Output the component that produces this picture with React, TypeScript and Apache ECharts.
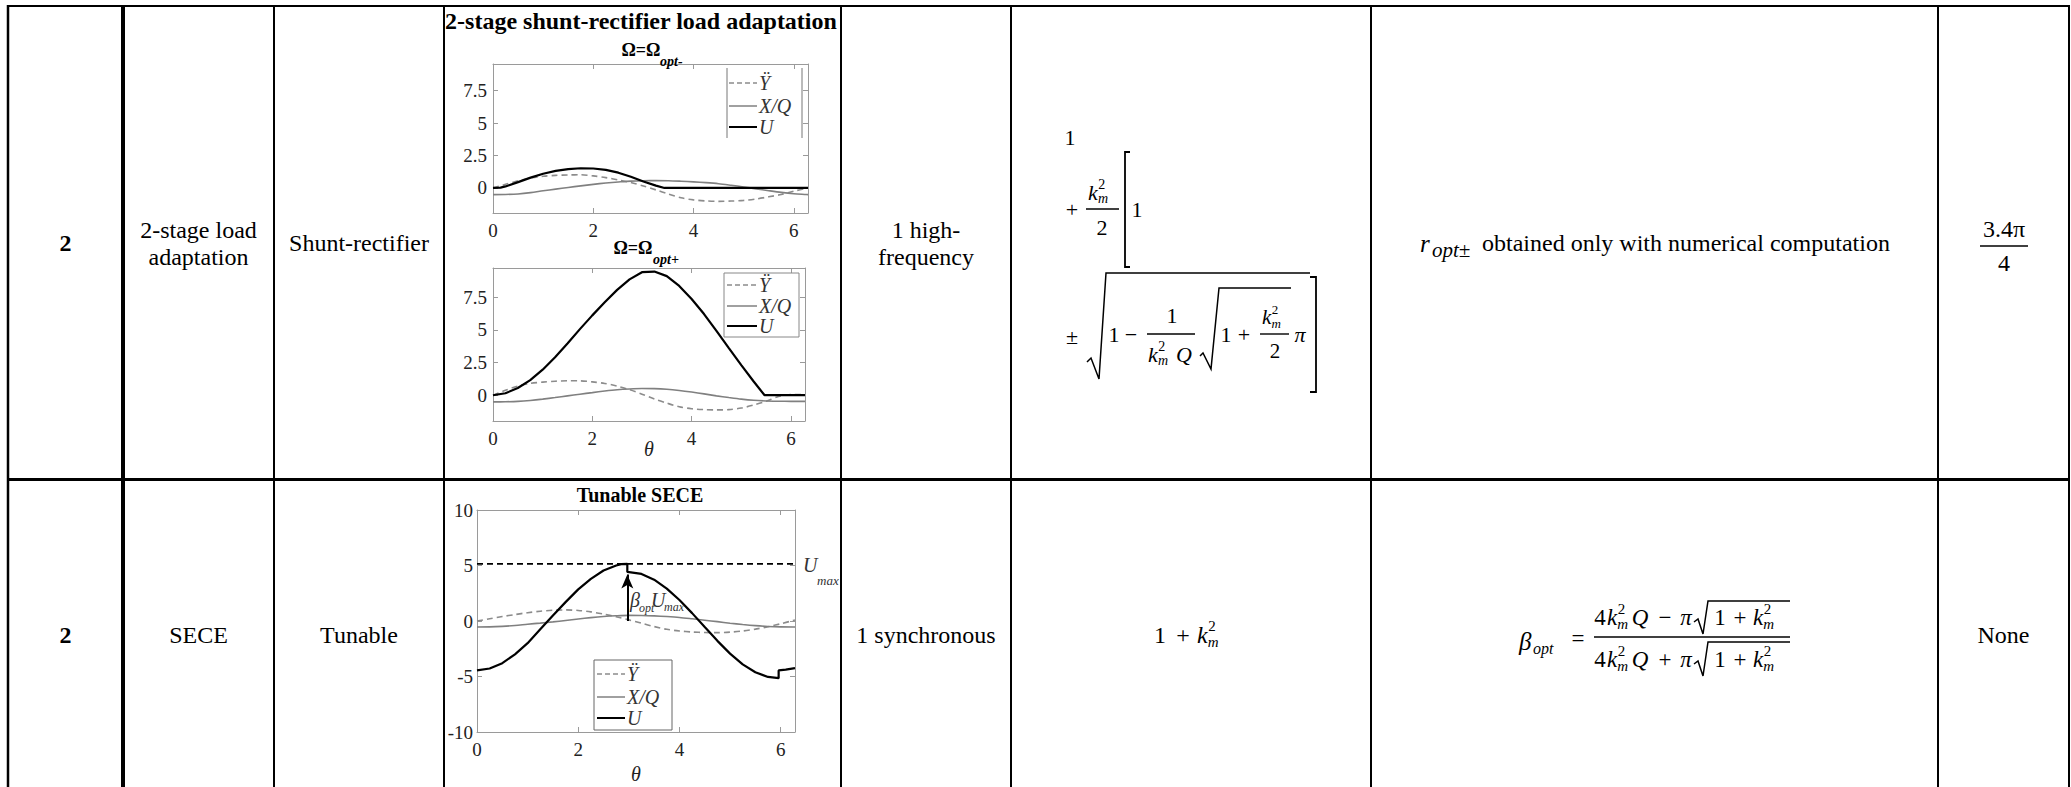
import React, { useEffect, useRef } from "react";
import * as echarts from "echarts";

const SERIF = "Liberation Serif, Times New Roman, serif";

// ---------- data ----------
const THETA = [0, 0.25, 0.5, 0.75, 1, 1.25, 1.5, 1.75, 2, 2.25, 2.5, 2.75, 3, 3.25, 3.5, 3.75, 4, 4.25, 4.5, 4.75, 5, 5.25, 5.5, 5.75, 6, 6.25, 6.2832];
const X_TICKS = [0, 2, 4, 6];
const Y_TICKS_12 = [0, 2.5, 5, 7.5];
const Y_TICKS_3 = [-10, -5, 0, 5, 10];

// Chart 1 : Omega = Omega_opt-
const C1_YDD = [0, 0.28, 0.55, 0.77, 0.9, 0.97, 1.0, 1.02, 0.93, 0.8, 0.62, 0.42, 0.15, -0.15, -0.47, -0.76, -0.92, -1.0, -1.03, -1.01, -0.96, -0.85, -0.68, -0.5, -0.25, -0.02, 0];
const C1_XQ = [-0.51, -0.5, -0.46, -0.36, -0.22, -0.09, 0.04, 0.16, 0.28, 0.38, 0.46, 0.53, 0.56, 0.57, 0.56, 0.52, 0.47, 0.41, 0.33, 0.21, 0.08, -0.07, -0.21, -0.34, -0.44, -0.5, -0.51];
const C1_U_THETA = [0, 0.15, 0.25, 0.5, 0.75, 1, 1.25, 1.5, 1.75, 2, 2.25, 2.5, 2.75, 3, 3.25, 3.42, 6.2832];
const C1_U = [0, 0.03, 0.12, 0.45, 0.8, 1.1, 1.32, 1.46, 1.52, 1.5, 1.4, 1.18, 0.86, 0.5, 0.18, 0, 0];

// Chart 2 : Omega = Omega_opt+
const C2_YDD = [0, 0.38, 0.7, 0.9, 1.0, 1.07, 1.1, 1.1, 1.02, 0.9, 0.7, 0.42, 0.08, -0.28, -0.6, -0.88, -1.03, -1.1, -1.12, -1.1, -0.98, -0.75, -0.47, -0.1, 0.05, 0.06, 0.06];
const C2_XQ = [-0.51, -0.5, -0.47, -0.4, -0.3, -0.18, -0.05, 0.08, 0.2, 0.32, 0.42, 0.48, 0.51, 0.5, 0.45, 0.36, 0.24, 0.1, -0.05, -0.18, -0.3, -0.39, -0.44, -0.46, -0.47, -0.47, -0.47];
const C2_U_THETA = [0, 0.25, 0.5, 0.75, 1, 1.25, 1.5, 1.75, 2, 2.25, 2.5, 2.75, 3, 3.25, 3.5, 3.75, 4, 4.25, 4.5, 4.75, 5, 5.25, 5.47, 6.2832];
const C2_U = [0, 0.15, 0.55, 1.15, 1.95, 2.9, 3.95, 5.05, 6.1, 7.1, 8.05, 8.85, 9.4, 9.45, 9.1, 8.35, 7.35, 6.2, 4.92, 3.6, 2.3, 1.05, 0, 0];

// Chart 3 : Tunable SECE
const C3_YDD = [0, 0.2, 0.4, 0.58, 0.75, 0.88, 0.97, 1.0, 0.95, 0.82, 0.62, 0.38, 0.1, -0.2, -0.5, -0.75, -0.9, -0.99, -1.04, -1.05, -1.0, -0.9, -0.73, -0.52, -0.25, 0.05, 0.1];
const C3_XQ = [-0.54, -0.53, -0.48, -0.4, -0.29, -0.19, -0.08, 0.05, 0.18, 0.3, 0.4, 0.47, 0.51, 0.5, 0.46, 0.4, 0.32, 0.2, 0.07, -0.06, -0.2, -0.32, -0.42, -0.49, -0.53, -0.54, -0.54];
const C3_U_THETA = [0, 0.25, 0.5, 0.75, 1, 1.25, 1.5, 1.75, 2, 2.25, 2.5, 2.75, 2.85, 2.97, 2.97, 3.25, 3.5, 3.75, 4, 4.25, 4.5, 4.75, 5, 5.25, 5.5, 5.75, 5.96, 5.96, 6.1, 6.2832];
const C3_U = [-4.45, -4.28, -3.8, -3.0, -2.0, -0.75, 0.5, 1.7, 2.85, 3.8, 4.55, 5.0, 5.12, 5.15, 4.42, 4.24, 3.72, 2.92, 1.89, 0.71, -0.55, -1.79, -2.94, -3.91, -4.62, -5.04, -5.15, -4.45, -4.38, -4.25];
const C3_UMAX = 5.15;
const C3_ARROW_THETA = 2.97;
const C3_ARROW_TOP = 4.2;

const Y_RANGES = [[-1.93, 9.56], [-1.97, 9.72], [-10, 10]];

// ---------- helpers ----------
const zip = (xs: number[], ys: number[]) => xs.map((x, i) => [x, ys[i]]);

const L = (x1: number, y1: number, x2: number, y2: number, w = 2, color = "#000", dash?: number[]) => ({
  type: "line", silent: true, z: 10,
  shape: { x1, y1, x2, y2 },
  style: dash ? { stroke: color, lineWidth: w, lineDash: dash } : { stroke: color, lineWidth: w },
});
const PL = (pts: number[][], w = 1.5) => ({
  type: "polyline", silent: true, z: 10,
  shape: { points: pts },
  style: { stroke: "#000", lineWidth: w, fill: null },
});
const T = (x: number, y: number, text: string, size: number, o: any = {}) => {
  const style: any = {
    text, fill: o.color || "#000", fontSize: size, fontFamily: o.family || SERIF,
    textAlign: o.align || "center", textVerticalAlign: "middle",
    align: o.align || "center", verticalAlign: "middle",
  };
  if (o.italic) style.fontStyle = "italic";
  if (o.bold) style.fontWeight = "bold";
  return { type: "text", x, y, silent: true, z: 11, style };
};
const km = (x: number, y: number, s: number) => [
  T(x, y, "k", s, { italic: true, align: "left" }),
  T(x + 0.47 * s, y - 0.36 * s, "2", Math.round(s * 0.64), { align: "left" }),
  T(x + 0.45 * s, y + 0.3 * s, "m", Math.round(s * 0.64), { italic: true, align: "left" }),
];

const AX = "#9a9a9a";
const LBL = "#222";
const GRAY_D = "#8c8c8c";
const GRAY_S = "#808080";
const TICK_FS = 19;

function xAxis(grid: number, top: boolean, name?: string, gap?: number, moveOverlap = true) {
  return {
    type: "value", gridIndex: grid, position: top ? "top" : "bottom",
    min: 0, max: 6.2832,
    axisLine: { show: true, onZero: false, lineStyle: { color: AX, width: 1 } },
    axisTick: { show: true, inside: true, length: 5, customValues: X_TICKS, lineStyle: { color: AX } },
    axisLabel: { show: !top, customValues: X_TICKS, fontSize: TICK_FS, fontFamily: SERIF, color: LBL, margin: 8 },
    splitLine: { show: false },
    name: name || "", nameLocation: "middle", nameGap: gap || 20, nameMoveOverlap: moveOverlap,
    nameTextStyle: { fontSize: 20, fontStyle: "italic", fontFamily: SERIF, color: LBL },
  };
}
function yAxis(grid: number, right: boolean) {
  const ticks = grid === 2 ? Y_TICKS_3 : Y_TICKS_12;
  return {
    type: "value", gridIndex: grid, position: right ? "right" : "left",
    min: Y_RANGES[grid][0], max: Y_RANGES[grid][1],
    axisLine: { show: true, onZero: false, lineStyle: { color: AX, width: 1 } },
    axisTick: { show: true, inside: true, length: 5, customValues: ticks, lineStyle: { color: AX } },
    axisLabel: { show: !right, customValues: ticks, fontSize: TICK_FS, fontFamily: SERIF, color: LBL, margin: grid === 2 ? 4 : 6 },
    splitLine: { show: false },
  };
}
function lineSeries(name: string, grid: number, data: number[][], kind: "U" | "XQ" | "YDD") {
  const style =
    kind === "U" ? { color: "#000", width: 2.2, type: "solid" } :
    kind === "XQ" ? { color: GRAY_S, width: 1.6, type: "solid" } :
    { color: GRAY_D, width: 1.6, type: [6, 4] };
  return {
    name, type: "line", xAxisIndex: grid, yAxisIndex: grid, data,
    symbol: "none", showSymbol: false, smooth: kind === "U" ? false : 0.3,
    lineStyle: style, itemStyle: { color: style.color }, z: kind === "U" ? 4 : 3,
    silent: true, clip: true,
  };
}

// ---------- table ----------
const COLS = [8, 123, 274, 444, 841, 1011, 1371, 1938, 2069];
const COL_W = [2.5, 4, 2, 2, 2, 2, 2, 2, 2];
const ROW_TOP = 6;
const ROW_SEP = 479.5;
const R1 = 243;
const R2 = 635;
const FS = 24;

function tableElements() {
  const els: any[] = [];
  els.push(L(7, ROW_TOP, 2070, ROW_TOP, 2));
  els.push(L(7, ROW_SEP, 2070, ROW_SEP, 3));
  COLS.forEach((x, i) => els.push(L(x, 5, x, 787, COL_W[i])));

  // row 1
  els.push(T(65.5, R1, "2", FS, { bold: true }));
  els.push(T(198.5, 230, "2-stage load", FS));
  els.push(T(198.5, 257, "adaptation", FS));
  els.push(T(359, R1, "Shunt-rectifier", FS));
  els.push(T(926, 230, "1 high-", FS));
  els.push(T(926, 257, "frequency", FS));

  // row 1 formula (col 6)
  els.push(T(1070, 137, "1", 22));
  els.push(T(1072, 209, "+", 22));
  els.push(...km(1088, 192, 22));
  els.push(L(1086, 209, 1119, 209, 1.4));
  els.push(T(1102, 227, "2", 22));
  els.push(PL([[1130, 152], [1125, 152], [1125, 267], [1130, 267]], 1.8));
  els.push(T(1137, 209, "1", 22));
  els.push(T(1072, 336, "±", 22));
  els.push(PL([[1087, 362], [1091, 358], [1099, 379], [1106, 273], [1310, 273]], 1.5));
  els.push(T(1114, 334, "1", 22));
  els.push(T(1131, 334, "−", 22));
  els.push(T(1172, 315, "1", 22));
  els.push(L(1147, 334, 1195, 334, 1.4));
  els.push(...km(1148, 354, 22));
  els.push(T(1184, 354, "Q", 22, { italic: true }));
  els.push(PL([[1200, 356], [1203, 353], [1211, 369], [1219, 288], [1291, 288]], 1.5));
  els.push(T(1226, 334, "1", 22));
  els.push(T(1244, 334, "+", 22));
  els.push(...km(1262, 317, 21));
  els.push(L(1260, 334, 1289, 334, 1.4));
  els.push(T(1275, 351, "2", 21));
  els.push(T(1300, 334, "π", 22, { italic: true }));
  els.push(PL([[1310, 277], [1316, 277], [1316, 392], [1310, 392]], 1.8));

  // row 1 col 7
  els.push(T(1420, R1, "r", 25, { italic: true, align: "left" }));
  els.push(T(1432, R1 + 7, "opt±", 21, { italic: true, align: "left" }));
  els.push(T(1482, R1, "obtained only with numerical computation", FS, { align: "left" }));

  // row 1 col 8
  els.push(T(2004, 229, "3.4π", 24));
  els.push(L(1980, 246, 2028, 246, 1.5));
  els.push(T(2004, 263, "4", 24));

  // row 2
  els.push(T(65.5, R2, "2", FS, { bold: true }));
  els.push(T(198.5, R2, "SECE", FS));
  els.push(T(359, R2, "Tunable", FS));
  els.push(T(926, R2, "1 synchronous", FS));
  els.push(T(2003.5, R2, "None", FS));
  // 1 + k_m^2
  els.push(T(1160, R2, "1", 24));
  els.push(T(1183, R2, "+", 24));
  els.push(...km(1197, R2, 24));
  // beta_opt formula
  els.push(T(1519, 641, "β", 25, { italic: true, align: "left" }));
  els.push(T(1533, 648, "opt", 16, { italic: true, align: "left" }));
  els.push(T(1578, 638, "=", 23));
  els.push(L(1594, 637, 1790, 637, 1.6));
  const part = (y: number, sign: string, rTop: number, rBot: number) => {
    els.push(T(1600, y, "4", 23));
    els.push(...km(1607, y, 23));
    els.push(T(1640, y, "Q", 23, { italic: true }));
    els.push(T(1665, y, sign, 23));
    els.push(T(1686, y, "π", 23, { italic: true }));
    els.push(PL([[1694, y + 5], [1698, y + 2], [1703, rBot], [1708, rTop], [1790, rTop]], 1.5));
    els.push(T(1720, y, "1", 23));
    els.push(T(1740, y, "+", 23));
    els.push(...km(1753, y, 23));
  };
  part(617, "−", 601, 634);
  part(659, "+", 642, 676);
  return els;
}

function chartDecorations() {
  const els: any[] = [];
  // titles
  els.push(T(641, 21, "2-stage shunt-rectifier load adaptation", 24, { bold: true }));
  els.push(T(641, 50, "Ω=Ω", 18, { bold: true }));
  els.push(T(660, 61, "opt-", 14, { bold: true, italic: true, align: "left" }));
  els.push(T(633, 248, "Ω=Ω", 18, { bold: true }));
  els.push(T(653, 259, "opt+", 14, { bold: true, italic: true, align: "left" }));
  els.push(T(640, 495, "Tunable SECE", 20, { bold: true }));

  const items = (x1: number, x2: number, xt: number, ys: number[], size: number) => [
    L(x1, ys[0], x2, ys[0], 1.5, GRAY_D, [5, 3]),
    T(xt, ys[0], "Ÿ", size, { italic: true, align: "left", color: "#333" }),
    L(x1, ys[1], x2, ys[1], 1.5, GRAY_S),
    T(xt, ys[1], "X/Q", size, { italic: true, align: "left", color: "#333" }),
    L(x1, ys[2], x2, ys[2], 2, "#000"),
    T(xt, ys[2], "U", size, { italic: true, align: "left", color: "#333" }),
  ];
  // legend 1 (only side lines visible)
  els.push(L(727, 68, 727, 138, 1, "#777"));
  els.push(L(802, 68, 802, 138, 1, "#777"));
  els.push(...items(729, 757, 759, [83, 106, 127], 20));
  // legend 2
  els.push({ type: "rect", silent: true, z: 9, shape: { x: 724, y: 273, width: 75, height: 64 }, style: { fill: "#fff", stroke: "#888", lineWidth: 1 } });
  els.push(...items(727, 757, 759, [285, 306, 326], 20));
  // legend 3
  els.push({ type: "rect", silent: true, z: 9, shape: { x: 594, y: 660, width: 78, height: 70 }, style: { fill: "#fff", stroke: "#666", lineWidth: 1 } });
  els.push(...items(597, 625, 627, [674, 697, 718], 20));

  // annotations chart 3
  els.push(T(803, 565, "U", 20, { italic: true, align: "left", color: "#333" }));
  els.push(T(817, 580, "max", 13, { italic: true, align: "left", color: "#333" }));
  els.push(T(630, 600, "β", 20, { italic: true, align: "left", color: "#333" }));
  els.push(T(639, 608, "opt", 12, { italic: true, align: "left", color: "#333" }));
  els.push(T(651, 600, "U", 20, { italic: true, align: "left", color: "#333" }));
  els.push(T(664, 607, "max", 12, { italic: true, align: "left", color: "#333" }));
  return els;
}

function buildOption() {
  const series: any[] = [
    lineSeries("Ÿ", 0, zip(THETA, C1_YDD), "YDD"),
    lineSeries("X/Q", 0, zip(THETA, C1_XQ), "XQ"),
    lineSeries("U", 0, zip(C1_U_THETA, C1_U), "U"),
    lineSeries("Ÿ", 1, zip(THETA, C2_YDD), "YDD"),
    lineSeries("X/Q", 1, zip(THETA, C2_XQ), "XQ"),
    lineSeries("U", 1, zip(C2_U_THETA, C2_U), "U"),
    lineSeries("Ÿ", 2, zip(THETA, C3_YDD), "YDD"),
    lineSeries("X/Q", 2, zip(THETA, C3_XQ), "XQ"),
    lineSeries("U", 2, zip(C3_U_THETA, C3_U), "U"),
    {
      name: "Umax", type: "line", xAxisIndex: 2, yAxisIndex: 2,
      data: [[0, C3_UMAX], [6.2832, C3_UMAX]],
      symbol: "none", showSymbol: false, silent: true, z: 3,
      lineStyle: { color: "#000", width: 1.8, type: [6, 4] },
      markLine: {
        silent: true, symbol: ["none", "arrow"], symbolSize: [9, 14],
        label: { show: false }, emphasis: { disabled: true },
        lineStyle: { color: "#000", width: 2, type: "solid" },
        data: [[{ coord: [C3_ARROW_THETA, 0] }, { coord: [C3_ARROW_THETA, C3_ARROW_TOP] }]],
      },
    },
  ];
  return {
    animation: false,
    backgroundColor: "#fff",
    grid: [
      { left: 493, top: 64, width: 315, height: 149 },
      { left: 493, top: 268, width: 312, height: 153 },
      { left: 477, top: 510, width: 318, height: 222 },
    ],
    xAxis: [
      xAxis(0, false), xAxis(1, false, "θ", 18, false), xAxis(2, false, "θ", 32),
      xAxis(0, true), xAxis(1, true), xAxis(2, true),
    ],
    yAxis: [yAxis(0, false), yAxis(1, false), yAxis(2, false), yAxis(0, true), yAxis(1, true), yAxis(2, true)],
    series,
    graphic: { elements: [...tableElements(), ...chartDecorations()] },
  };
}

export default function App() {
  const ref = useRef<HTMLDivElement>(null);
  useEffect(() => {
    const chart = echarts.init(ref.current as HTMLDivElement, null, { renderer: "svg" });
    chart.setOption(buildOption() as any);
    return () => chart.dispose();
  }, []);
  return (
    <div
      ref={ref}
      style={{ position: "absolute", left: 0, top: 0, width: 2071, height: 787, background: "#fff" }}
    />
  );
}
